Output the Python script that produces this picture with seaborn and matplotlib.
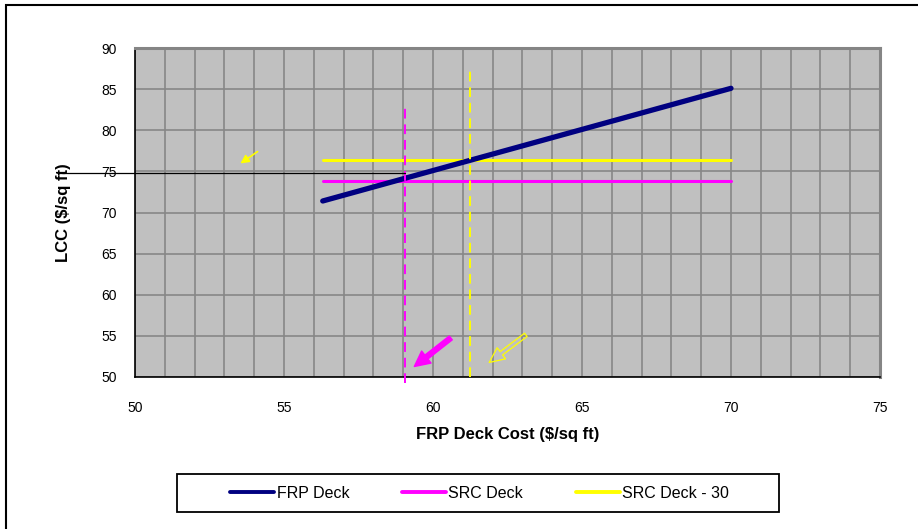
import numpy as np
import pandas as pd
import matplotlib
matplotlib.use("Agg")
import matplotlib.pyplot as plt
import seaborn as sns
from matplotlib.patches import Rectangle
from matplotlib.ticker import MultipleLocator

# --- data ---
frp_cost = [56.3, 60, 65, 70]
frp_lcc = [71.4, 75.1, 80.1, 85.1]
src_cost = [56.3, 70]
src_lcc = [73.8, 73.8]
src30_cost = [56.3, 70]
src30_lcc = [76.4, 76.4]
series_names = ["FRP Deck", "SRC Deck", "SRC Deck - 30"]
series_colors = ["#000080", "#FF00FF", "#FFFF00"]
series_widths = [3.8, 2.2, 2.2]

# break-even markers
src_break = 59.06
src_break_span = [49.3, 83.1]
src30_break = 61.24
src30_break_span = [50.0, 87.3]
guide_lcc = 74.8
guide_start = 47.55

sns.set_style("white")
plt.rcParams["font.family"] = ["Liberation Sans", "DejaVu Sans"]
plt.rcParams["text.color"] = "black"
plt.rcParams["axes.labelcolor"] = "black"
plt.rcParams["xtick.color"] = "black"
plt.rcParams["ytick.color"] = "black"

df = pd.concat([
    pd.DataFrame({"cost": frp_cost, "lcc": frp_lcc, "series": series_names[0]}),
    pd.DataFrame({"cost": src_cost, "lcc": src_lcc, "series": series_names[1]}),
    pd.DataFrame({"cost": src30_cost, "lcc": src30_lcc, "series": series_names[2]}),
])

W, H = 918, 529
fig = plt.figure(figsize=(W / 100, H / 100), dpi=100)
ax = fig.add_axes([135 / W, 1 - 377 / H, 745 / W, 329 / H])
ax.set_facecolor("#C0C0C0")

# outer chart border (cut off at right and bottom like the reference)
fig.patches.append(Rectangle((6 / W, -0.1), 1.2, 1 - 5 / H + 0.1,
                             transform=fig.transFigure, fill=False,
                             edgecolor="black", linewidth=1.5))
# legend box (wider than its content, as in the reference)
fig.patches.append(Rectangle((177 / W, 1 - 512 / H), 602 / W, 38 / H,
                             transform=fig.transFigure, fill=False,
                             edgecolor="black", linewidth=1.3))

for name, col, lw in zip(series_names, series_colors, series_widths):
    sub = df[df["series"] == name]
    sns.lineplot(data=sub, x="cost", y="lcc", color=col, linewidth=lw,
                 label=name, ax=ax, solid_capstyle="round", zorder=4 if name == "FRP Deck" else 3)

# dashed vertical break-even lines
ax.plot([src_break, src_break], src_break_span, color="#FF00FF", lw=1.4,
        ls=(0, (5, 3)), clip_on=False, zorder=5)
ax.plot([src30_break, src30_break], src30_break_span, color="#FFFF00", lw=1.4,
        ls=(0, (5, 3)), clip_on=False, zorder=5)

# thin black guide line
ax.plot([guide_start, src_break], [guide_lcc, guide_lcc], color="black",
        lw=0.9, clip_on=False, zorder=6)

# arrows
ax.annotate("", xy=(53.46, 75.77), xytext=(54.19, 77.6),
            arrowprops=dict(arrowstyle="-|>,head_length=0.5,head_width=0.25",
                            color="#FFFF00", lw=1.2), zorder=6)
ax.annotate("", xy=(59.30, 51.07), xytext=(60.67, 54.96),
            arrowprops=dict(arrowstyle="simple,head_length=1.1,head_width=1.1,tail_width=0.35",
                            fc="#FF00FF", ec="#FF00FF"), zorder=6)
ax.annotate("", xy=(61.81, 51.56), xytext=(63.19, 55.33),
            arrowprops=dict(arrowstyle="simple,head_length=1.1,head_width=1.0,tail_width=0.3",
                            fc="none", ec="#FFFF00", lw=0.9), zorder=6)

ax.set_xlim(50, 75)
ax.set_ylim(50, 90)
ax.xaxis.set_major_locator(MultipleLocator(5))
ax.xaxis.set_minor_locator(MultipleLocator(1))
ax.yaxis.set_major_locator(MultipleLocator(5))
ax.grid(which="major", axis="both", color="#878787", lw=1.2, zorder=0)
ax.grid(which="minor", axis="x", color="#878787", lw=1.2, zorder=0)
ax.set_axisbelow(True)

for side in ["top", "right"]:
    ax.spines[side].set_color("#858585")
    ax.spines[side].set_linewidth(2.2)
for side in ["left", "bottom"]:
    ax.spines[side].set_color("black")
    ax.spines[side].set_linewidth(1.2)

ax.tick_params(axis="both", which="major", direction="out", length=4, width=1,
               color="black", labelsize=10, pad=9)
ax.tick_params(axis="x", which="minor", length=0)
ax.tick_params(axis="x", pad=13)

ax.set_xlabel("FRP Deck Cost ($/sq ft)", fontsize=12, fontweight="bold", labelpad=9)
ax.set_ylabel("LCC ($/sq ft)", fontsize=12, fontweight="bold", labelpad=22)

leg = ax.legend(loc="center", bbox_to_anchor=(479.5 / W, 1 - 493 / H),
                bbox_transform=fig.transFigure, ncol=3, frameon=False,
                fontsize=11.5, handlelength=2.75, handletextpad=0.15,
                columnspacing=3.3, borderpad=0.0)
for line in leg.get_lines():
    line.set_linewidth(2.8)

fig.savefig("out.png", dpi=100)
